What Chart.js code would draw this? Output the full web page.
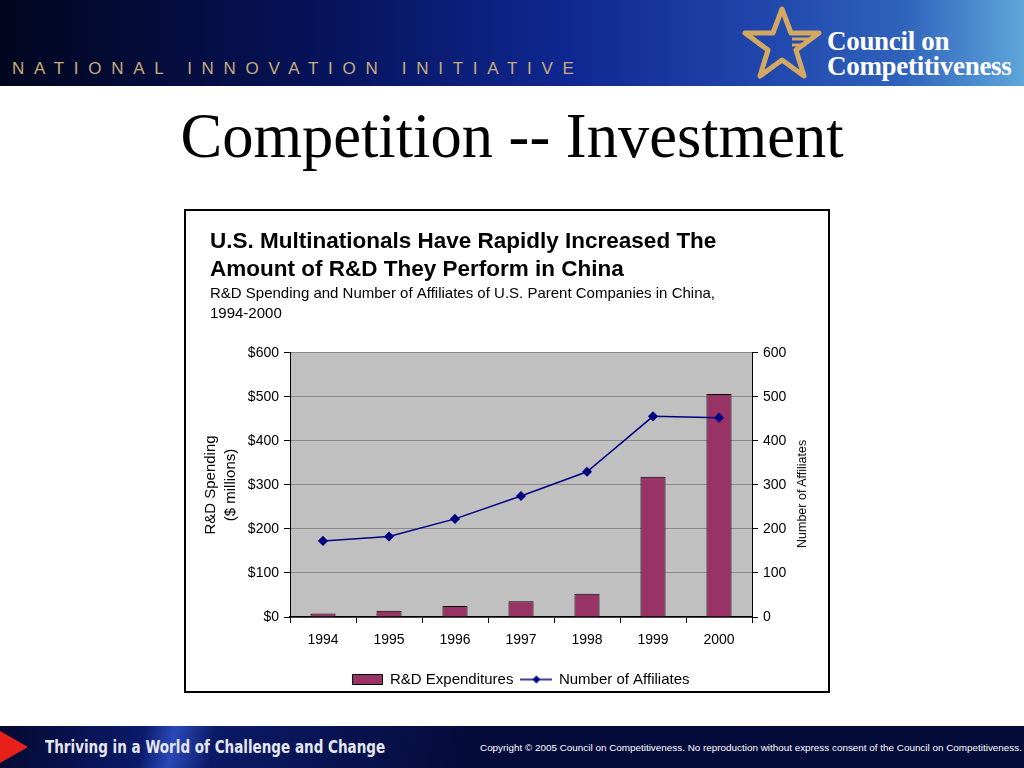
<!DOCTYPE html>
<html>
<head>
<meta charset="utf-8">
<title>Competition -- Investment</title>
<script src="https://cdn.jsdelivr.net/npm/chart.js@4.4.1/dist/chart.umd.min.js"></script>
<style>
  body { margin: 0; width: 1024px; height: 768px; position: relative; overflow: hidden; background: #fff; font-family: "Liberation Sans", Arial, sans-serif; }
  #header { position: absolute; left: 0; top: 0; width: 1024px; height: 86px;
    background: linear-gradient(90deg, #02061f 0%, #061257 30%, #0f2790 55%, #2147ad 75%, #2f62bb 88%, #5ea6da 100%); }
  #nii { position: absolute; left: 12px; top: 59px; font-size: 17px; letter-spacing: 9.7px; color: #c8ad7c; white-space: nowrap; }
  #logoText { position: absolute; left: 827px; top: 29px; color: #fff; font-family: "Liberation Serif", "Times New Roman", serif; font-weight: bold; font-size: 27px; line-height: 25px; letter-spacing: -0.3px; }
  #slideTitle { position: absolute; left: 0; width: 1024px; top: 102px; text-align: center; font-family: "Liberation Serif", "Times New Roman", serif; font-size: 62.5px; line-height: 68px; color: #000; }
  #chartBox { position: absolute; left: 184px; top: 209px; width: 646px; height: 484px; border: 2px solid #000; box-sizing: border-box; }
  #chartWrap { position: absolute; left: 0; top: 0; width: 642px; height: 486px; }
  #rightTitle { position: absolute; left: 802px; top: 494px; transform: translate(-50%, -50%) rotate(-90deg); font-size: 12.5px; white-space: nowrap; color: #000; }
  #footer { position: absolute; left: 0; top: 726px; width: 1024px; height: 42px;
    background: linear-gradient(100deg, #040a30 0%, #0a1a6a 14%, #2a4ab8 17%, #0b1a66 21%, #050c3c 45%, #050b38 100%); }
  #redTip { position: absolute; left: 0; top: 5px; width: 0; height: 0; border-top: 16px solid transparent; border-bottom: 16px solid transparent; border-left: 28px solid #e8201a; }
  #thriving { position: absolute; left: 45px; top: 10px; color: #e6e6ee; font-family: "DejaVu Sans Condensed", "DejaVu Sans", sans-serif; font-weight: bold; font-size: 18px; white-space: nowrap; transform: scaleX(0.835); transform-origin: left center; }
  #copyright { position: absolute; left: 480px; top: 16px; color: #fff; font-size: 9.9px; white-space: nowrap; }
</style>
</head>
<body>
<div id="header">
  <div id="nii">NATIONAL INNOVATION INITIATIVE</div>
  <svg width="100" height="86" style="position:absolute;left:734px;top:0">
    <polygon points="48,9 57,33 85,33 62,50 70,76 48,60 26,76 34,50 11,33 39,33" fill="none" stroke="#d4a860" stroke-width="5" stroke-linejoin="round"/>
    <line x1="58" y1="39" x2="79" y2="39" stroke="#d4a860" stroke-width="3"/>
    <line x1="58" y1="45" x2="72" y2="45" stroke="#d4a860" stroke-width="3"/>
  </svg>
  <div id="logoText">Council on<br>Competitiveness</div>
</div>

<div id="slideTitle">Competition -- Investment</div>

<div id="chartBox">
  <div id="chartWrap"><canvas id="rdChart"></canvas></div>
</div>
<div id="rightTitle">Number of Affiliates</div>

<div id="footer">
  <div id="redTip"></div>
  <div id="thriving">Thriving in a World of Challenge and Change</div>
  <div id="copyright">Copyright © 2005 Council on Competitiveness. No reproduction without express consent of the Council on Competitiveness.</div>
</div>

<script>
// ---------- data ----------
const years = ["1994", "1995", "1996", "1997", "1998", "1999", "2000"];
const rdSpending = [8, 14, 25, 36, 53, 319, 507];      // $ millions
const affiliates = [173, 183, 223, 275, 330, 456, 453]; // count
const axisMax = 600;
const axisStep = 100;

// grey plot area like the Excel chart
const plotBackground = {
  id: "plotBackground",
  beforeDraw(chart) {
    const { ctx, chartArea: a } = chart;
    ctx.save();
    ctx.fillStyle = "#c0c0c0";
    ctx.fillRect(a.left, a.top, a.right - a.left, a.bottom - a.top);
    ctx.restore();
  }
};

// legend icon for the line series: line with a diamond
const lineIcon = document.createElement("canvas");
lineIcon.width = 32;
lineIcon.height = 10;
const ic = lineIcon.getContext("2d");
ic.strokeStyle = "#000080";
ic.lineWidth = 1.5;
ic.beginPath(); ic.moveTo(0, 5); ic.lineTo(32, 5); ic.stroke();
ic.fillStyle = "#000080";
ic.beginPath(); ic.moveTo(16, 1); ic.lineTo(20, 5); ic.lineTo(16, 9); ic.lineTo(12, 5); ic.closePath(); ic.fill();

Chart.defaults.font.family = '"Liberation Sans", Arial, sans-serif';
Chart.defaults.font.size = 14;
Chart.defaults.color = "#000";

new Chart(document.getElementById("rdChart"), {
  type: "bar",
  data: {
    labels: years,
    datasets: [
      {
        type: "bar",
        label: "R&D Expenditures",
        data: rdSpending,
        yAxisID: "y",
        backgroundColor: "#993366",
        borderColor: "#000",
        borderWidth: 1,
        barPercentage: 0.38,
        categoryPercentage: 1,
        order: 1
      },
      {
        type: "line",
        label: "Number of Affiliates",
        data: affiliates,
        yAxisID: "y1",
        borderColor: "#000080",
        backgroundColor: "#000080",
        borderWidth: 1.5,
        pointStyle: "rectRot",
        pointRadius: 4,
        tension: 0,
        order: 0
      }
    ]
  },
  options: {
    responsive: true,
    maintainAspectRatio: false,
    animation: false,
    layout: { padding: { left: 24, right: 0, top: 0, bottom: 0 } },
    plugins: {
      title: {
        display: true,
        align: "start",
        text: ["U.S. Multinationals Have Rapidly Increased The", "Amount of R&D They Perform in China"],
        font: { size: 22.5, weight: "bold", lineHeight: 1.2444 },
        color: "#000",
        padding: { top: 17, bottom: 0 }
      },
      subtitle: {
        display: true,
        align: "start",
        text: ["R&D Spending and Number of Affiliates of U.S. Parent Companies in China,", "1994-2000"],
        font: { size: 15, lineHeight: 1.3333 },
        color: "#000",
        padding: { top: 0, bottom: 29 }
      },
      legend: {
        position: "bottom",
        fullSize: false,
        labels: {
          usePointStyle: true,
          pointStyleWidth: 30,
          boxHeight: 10,
          padding: 8,
          font: { size: 15 },
          generateLabels(chart) {
            const items = Chart.defaults.plugins.legend.labels.generateLabels(chart);
            items.sort((a, b) => a.datasetIndex - b.datasetIndex);
            items.forEach(it => { it.pointStyle = it.datasetIndex === 1 ? lineIcon : "rect"; });
            return items;
          }
        }
      },
      tooltip: { enabled: false }
    },
    scales: {
      x: {
        offset: true,
        grid: { display: true, drawOnChartArea: false, offset: true, tickLength: 6, tickColor: "#000" },
        border: { color: "#000", width: 1.5 },
        ticks: { padding: 9, font: { size: 14 } },
        afterFit(scale) { scale.height = 47; }
      },
      y: {
        position: "left",
        min: 0,
        max: axisMax,
        grid: { color: "#8a8a8a", tickColor: "#000", tickLength: 6 },
        border: { color: "#000", width: 1 },
        ticks: { stepSize: axisStep, padding: 5, callback: v => "$" + v },
        title: { display: true, text: ["R&D Spending", "($ millions)"], font: { size: 15, lineHeight: 1.3333 }, padding: { top: -9, bottom: 0 } },
        afterFit(scale) { scale.width = 80; }
      },
      y1: {
        position: "right",
        min: 0,
        max: axisMax,
        grid: { drawOnChartArea: false, tickColor: "#000", tickLength: 6 },
        border: { color: "#000", width: 1 },
        ticks: { stepSize: axisStep, padding: 5 },
        afterFit(scale) { scale.width = 76; }
      }
    }
  },
  plugins: [plotBackground]
});
</script>
</body>
</html>
